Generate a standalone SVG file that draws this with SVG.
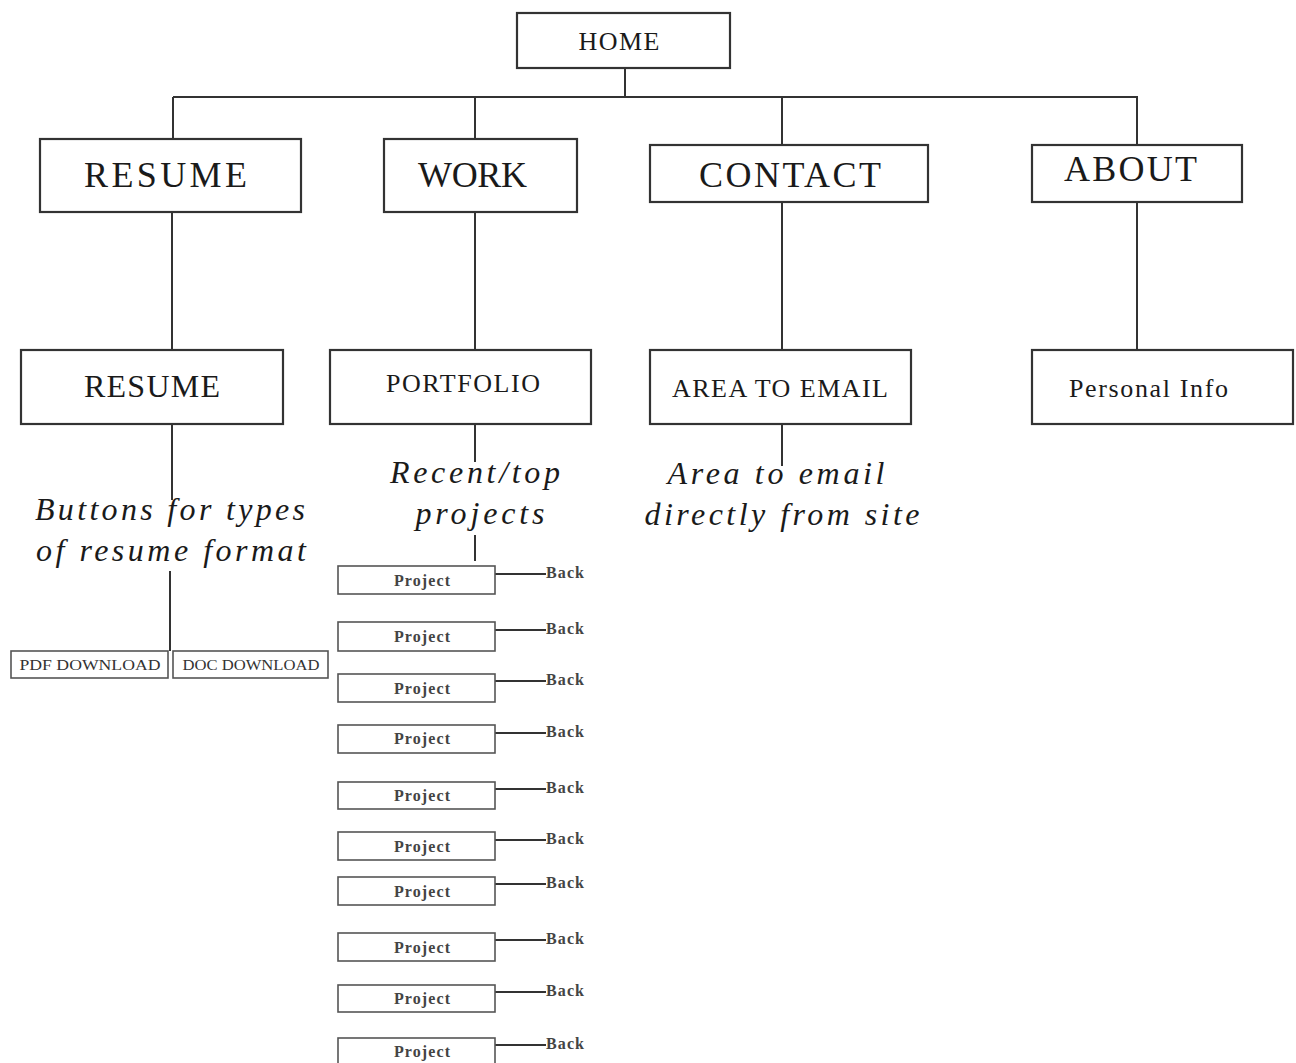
<svg xmlns="http://www.w3.org/2000/svg" width="1296" height="1063" viewBox="0 0 1296 1063">
<style>
.bx{fill:#fff;stroke:#333;stroke-width:2.2}
.sb{fill:#fff;stroke:#555;stroke-width:1.6}
.ln{stroke:#333;stroke-width:2;fill:none}
.t{font-family:"Liberation Serif","Times New Roman",serif;fill:#1a1a1a;text-anchor:middle}
.it{font-family:"Liberation Serif","Times New Roman",serif;font-style:italic;fill:#1a1a1a;text-anchor:middle;font-size:32px}
.st{font-family:"Liberation Serif","Times New Roman",serif;fill:#333;font-size:15px}
.pj{font-family:"Liberation Serif","Times New Roman",serif;fill:#444;font-size:16px;font-weight:bold}
</style>
<rect width="1296" height="1063" fill="#fff"/>
<g id="connectors">
<path class="ln" d="M625 68V97M173 97H1138M173 97V139M475 97V139M782 97V145M1137 97V145"/>
<path class="ln" d="M172 212V350M475 212V350M782 202V350M1137 202V350"/>
<path class="ln" d="M172 424V500M170 571V651M475 424V462M475 535V561M782 424V466"/>
<path class="ln" d="M495 574H546M495 630H546M495 681H546M495 733H546M495 789H546M495 840H546M495 884H546M495 940H546M495 992H546M495 1045H546"/>
</g>
<g id="home"><rect class="bx" x="517" y="13" width="213" height="55"/><text class="t" x="619" y="50" font-size="26" textLength="81">HOME</text></g>
<g id="resume"><rect class="bx" x="40" y="139" width="261" height="73"/><text class="t" x="165.5" y="187" font-size="36" textLength="163">RESUME</text></g>
<g id="work"><rect class="bx" x="384" y="139" width="193" height="73"/><text class="t" x="472.5" y="187" font-size="36" textLength="109">WORK</text></g>
<g id="contact"><rect class="bx" x="650" y="145" width="278" height="57"/><text class="t" x="790" y="187" font-size="36" textLength="182">CONTACT</text></g>
<g id="about"><rect class="bx" x="1032" y="145" width="210" height="57"/><text class="t" x="1130.5" y="181" font-size="36" textLength="133">ABOUT</text></g>
<g id="resume2"><rect class="bx" x="21" y="350" width="262" height="74"/><text class="t" x="152" y="397" font-size="32" textLength="136">RESUME</text></g>
<g id="portfolio"><rect class="bx" x="330" y="350" width="261" height="74"/><text class="t" x="463" y="392" font-size="26" textLength="154">PORTFOLIO</text></g>
<g id="area-to-email"><rect class="bx" x="650" y="350" width="261" height="74"/><text class="t" x="780" y="397" font-size="26" textLength="216">AREA TO EMAIL</text></g>
<g id="personal-info"><rect class="bx" x="1032" y="350" width="261" height="74"/><text class="t" x="1148.5" y="397" font-size="26" textLength="159">Personal Info</text></g>
<g id="resume-note"><text class="it" x="170" y="520" textLength="270">Buttons for types</text><text class="it" x="171" y="561" textLength="270">of resume format</text></g>
<g id="portfolio-note"><text class="it" x="475" y="483" textLength="170">Recent/top</text><text class="it" x="480" y="524" textLength="129">projects</text></g>
<g id="contact-note"><text class="it" x="776" y="484" textLength="217">Area to email</text><text class="it" x="782" y="525" textLength="275">directly from site</text></g>
<g id="pdf-download"><rect class="sb" x="11" y="651" width="157" height="27"/><text class="st" x="90" y="670" text-anchor="middle" textLength="141" lengthAdjust="spacingAndGlyphs">PDF DOWNLOAD</text></g>
<g id="doc-download"><rect class="sb" x="173" y="651" width="155" height="27"/><text class="st" x="251" y="670" text-anchor="middle" textLength="137" lengthAdjust="spacingAndGlyphs">DOC DOWNLOAD</text></g>
<g id="project-1"><rect class="sb" x="338" y="566" width="157" height="28"/><text class="pj" x="422" y="586" text-anchor="middle" textLength="56">Project</text><text class="pj" x="546" y="578" textLength="38">Back</text></g>
<g id="project-2"><rect class="sb" x="338" y="622" width="157" height="29"/><text class="pj" x="422" y="642" text-anchor="middle" textLength="56">Project</text><text class="pj" x="546" y="634" textLength="38">Back</text></g>
<g id="project-3"><rect class="sb" x="338" y="674" width="157" height="28"/><text class="pj" x="422" y="694" text-anchor="middle" textLength="56">Project</text><text class="pj" x="546" y="685" textLength="38">Back</text></g>
<g id="project-4"><rect class="sb" x="338" y="725" width="157" height="28"/><text class="pj" x="422" y="744" text-anchor="middle" textLength="56">Project</text><text class="pj" x="546" y="737" textLength="38">Back</text></g>
<g id="project-5"><rect class="sb" x="338" y="782" width="157" height="27"/><text class="pj" x="422" y="801" text-anchor="middle" textLength="56">Project</text><text class="pj" x="546" y="793" textLength="38">Back</text></g>
<g id="project-6"><rect class="sb" x="338" y="832" width="157" height="28"/><text class="pj" x="422" y="852" text-anchor="middle" textLength="56">Project</text><text class="pj" x="546" y="844" textLength="38">Back</text></g>
<g id="project-7"><rect class="sb" x="338" y="877" width="157" height="28"/><text class="pj" x="422" y="897" text-anchor="middle" textLength="56">Project</text><text class="pj" x="546" y="888" textLength="38">Back</text></g>
<g id="project-8"><rect class="sb" x="338" y="933" width="157" height="28"/><text class="pj" x="422" y="953" text-anchor="middle" textLength="56">Project</text><text class="pj" x="546" y="944" textLength="38">Back</text></g>
<g id="project-9"><rect class="sb" x="338" y="985" width="157" height="27"/><text class="pj" x="422" y="1004" text-anchor="middle" textLength="56">Project</text><text class="pj" x="546" y="996" textLength="38">Back</text></g>
<g id="project-10"><rect class="sb" x="338" y="1038" width="157" height="28"/><text class="pj" x="422" y="1057" text-anchor="middle" textLength="56">Project</text><text class="pj" x="546" y="1049" textLength="38">Back</text></g>
</svg>
